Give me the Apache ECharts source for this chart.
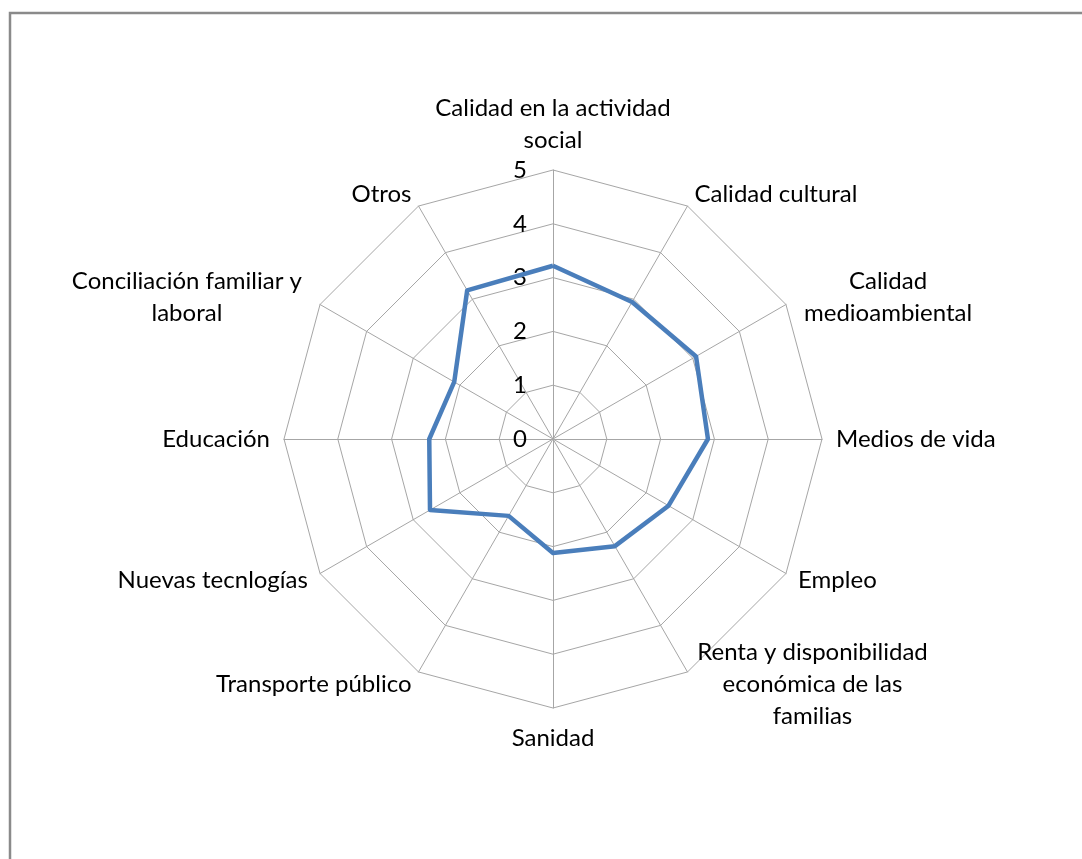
<!DOCTYPE html>
<html>
<head>
    <meta charset="utf-8">
    <title>Radar</title>
    <script src="https://cdn.jsdelivr.net/npm/echarts@6/dist/echarts.min.js"></script>
    <style>
        html, body { margin: 0; padding: 0; background: #fff; }
        #main { width: 1082px; height: 859px; }
    </style>
</head>
<body>
    <div id="main"></div>
    <script>
        // categories, clockwise from the top
        var categories = [
            'Calidad en la actividad\nsocial',
            'Calidad cultural',
            'Calidad\nmedioambiental',
            'Medios de vida',
            'Empleo',
            'Renta y disponibilidad\neconómica de las\nfamilias',
            'Sanidad',
            'Transporte público',
            'Nuevas tecnlogías',
            'Educación',
            'Conciliación familiar y\nlaboral',
            'Otros'
        ];
        var values = [3.22, 2.94, 3.07, 2.88, 2.48, 2.30, 2.12, 1.65, 2.64, 2.30, 2.12, 3.19];
        var axisMax = 5;

        // echarts lays radar axes out counter-clockwise, so feed it the order reversed (top stays first)
        var order = [0];
        for (var k = categories.length - 1; k > 0; k--) order.push(k);

        // width of the centred block for multi-line names
        var blockWidth = { 0: 244, 2: 180, 5: 236, 10: 242 };
        var labelFont = { fontSize: 24, fontFamily: 'Lato', color: '#000' };

        var rich = {};
        Object.keys(blockWidth).forEach(function (k) {
            rich['w' + k] = { width: blockWidth[k], align: 'center', fontSize: 24, lineHeight: 32, color: '#000', fontFamily: 'Lato' };
        });

        var indicator = order.map(function (i) {
            var ind = { name: categories[i], max: axisMax, min: 0 };
            if (i === 0) {
                // scale numbers only on the top axis
                ind.axisLabel = {
                    show: true,
                    color: '#000',
                    fontSize: 24,
                    fontFamily: 'Lato',
                    margin: 26,
                    formatter: function (v) { return v; }
                };
            }
            return ind;
        });

        var myChart = echarts.init(document.getElementById('main'));
        var option = {
            animation: false,
            backgroundColor: '#fff',
            graphic: [{
                type: 'rect',
                shape: { x: 10, y: 13, width: 1200, height: 1000 },
                style: { fill: 'none', stroke: '#8a8a8a', lineWidth: 2.5 },
                silent: true
            }],
            radar: {
                center: [553, 439],
                radius: 269,
                startAngle: 90,
                splitNumber: 5,
                shape: 'polygon',
                nameGap: 14,
                axisName: {
                    color: labelFont.color,
                    fontSize: labelFont.fontSize,
                    fontFamily: labelFont.fontFamily,
                    lineHeight: 32,
                    formatter: function (name) {
                        var idx = categories.indexOf(name);
                        if (blockWidth[idx]) {
                            return name.split('\n').map(function (l) {
                                return '{w' + idx + '|' + l + '}';
                            }).join('\n');
                        }
                        return name;
                    },
                    rich: rich
                },
                axisLine: { lineStyle: { color: '#a6a6a6', width: 1 } },
                splitLine: { lineStyle: { color: '#a6a6a6', width: 1 } },
                splitArea: { show: false },
                indicator: indicator
            },
            series: [{
                type: 'radar',
                symbol: 'none',
                lineStyle: { color: '#4a7ebb', width: 4.5 },
                data: [{ value: order.map(function (i) { return values[i]; }), name: 'Valoración' }]
            }]
        };
        myChart.setOption(option);
    </script>
</body>
</html>
